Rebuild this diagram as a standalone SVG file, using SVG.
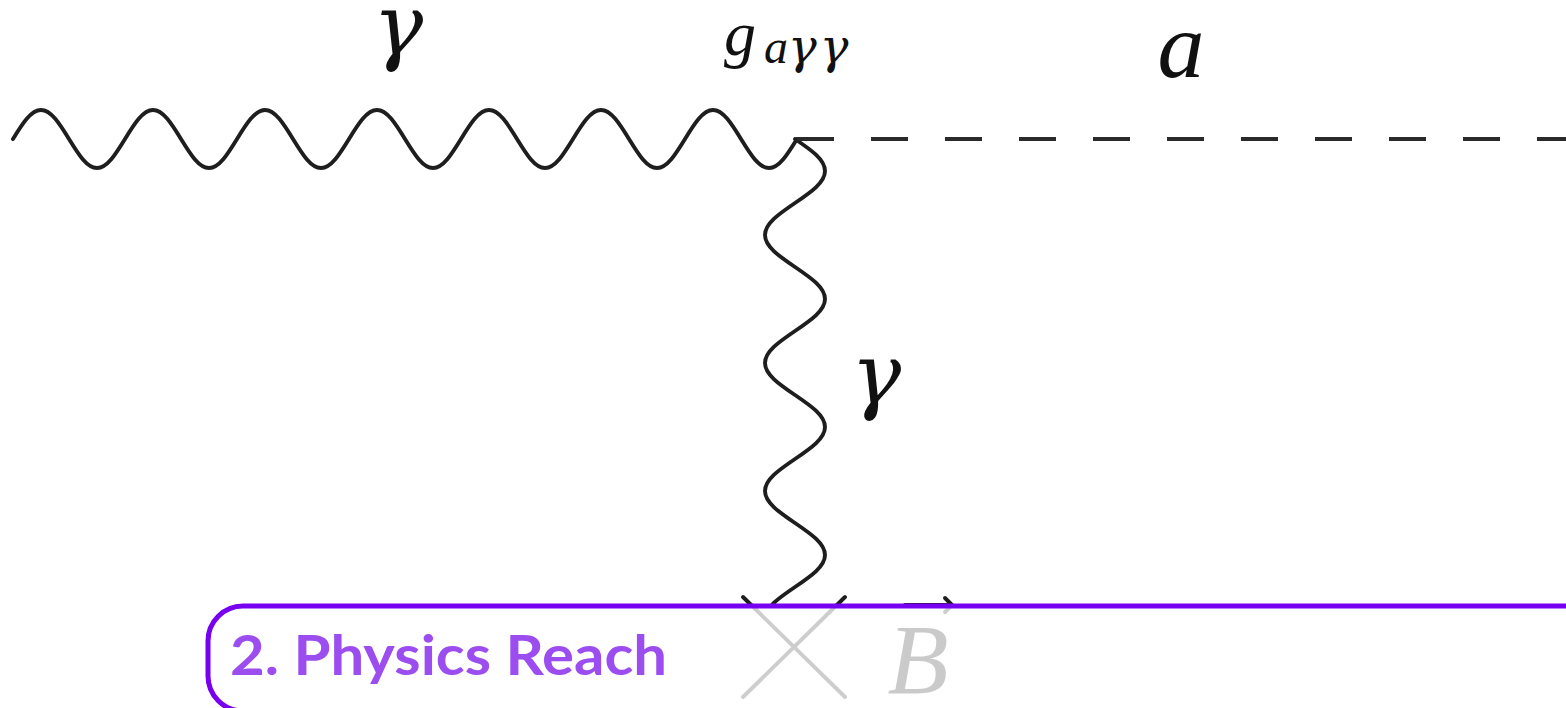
<svg xmlns="http://www.w3.org/2000/svg" width="1566" height="708" viewBox="0 0 1566 708">
<style>
.line{fill:none;stroke:#1e1e1e;stroke-width:3.9;stroke-linecap:round;stroke-linejoin:round}
.dash{fill:none;stroke:#2a2a2a;stroke-width:3.8;stroke-dasharray:37 37}
.math{font-family:"Liberation Serif","DejaVu Serif",serif;font-style:italic;fill:#111}
.greek{font-family:"DejaVu Serif","Liberation Serif",serif;font-style:italic;fill:#111}
.title{font-family:Lato,"Noto Sans",sans-serif;font-weight:700;fill:#9b4df0}
</style>
<defs>
<clipPath id="clipV"><rect x="700" y="130" width="200" height="475"/></clipPath>
</defs>
<rect width="1566" height="708" fill="#fff"/>
<g id="connectors">
<path class="line" d="M13,139 c9.36,-15.23 17.87,-29 28,-29 s18.64,13.77 28,29 s17.87,29 28,29 s18.64,-13.77 28,-29 s17.87,-29 28,-29 s18.64,13.77 28,29 s17.87,29 28,29 s18.64,-13.77 28,-29 s17.87,-29 28,-29 s18.64,13.77 28,29 s17.87,29 28,29 s18.64,-13.77 28,-29 s17.87,-29 28,-29 s18.64,13.77 28,29 s17.87,29 28,29 s18.64,-13.77 28,-29 s17.87,-29 28,-29 s18.64,13.77 28,29 s17.87,29 28,29 s18.64,-13.77 28,-29 s17.87,-29 28,-29 s18.64,13.77 28,29 s17.87,29 28,29 s18.64,-13.77 28,-29 s17.87,-29 28,-29 s18.64,13.77 28,29 s17.87,29 28,29 s18.64,-13.77 28,-29"/>
<path class="line" clip-path="url(#clipV)" d="M795,139 c15.75,10.7 30,20.43 30,32 s-14.25,21.3 -30,32 s-30,20.43 -30,32 s14.25,21.3 30,32 s30,20.43 30,32 s-14.25,21.3 -30,32 s-30,20.43 -30,32 s14.25,21.3 30,32 s30,20.43 30,32 s-14.25,21.3 -30,32 s-30,20.43 -30,32 s14.25,21.3 30,32 s30,20.43 30,32 s-14.25,21.3 -30,32 s-30,20.43 -30,32 s14.25,21.3 30,32"/>
<path class="dash" d="M797,139 H1566"/>
</g>
<g id="node-gamma-in"><text class="greek" x="398" y="54" font-size="84" text-anchor="middle">γ</text></g>
<g id="node-vertex"><text class="math" x="724" y="55" font-size="64">g</text><text class="math" x="764" y="63" font-size="48">a<tspan class="greek" font-size="48" letter-spacing="3">γγ</tspan></text></g>
<g id="node-axion"><text class="math" x="1181" y="77" font-size="94" text-anchor="middle">a</text></g>
<g id="node-gamma-virtual"><text class="greek" x="876" y="403" font-size="84" text-anchor="middle">γ</text></g>
<g id="node-field">
<path class="line" d="M743,597 L845,697 M845,597 L743,697"/>
<text class="math" x="918" y="693" font-size="100" text-anchor="middle">B</text>
<path class="line" stroke-width="2" d="M905,605 H951 M945,598 L952,605 L945,612"/>
</g>
<g id="section-header">
<rect x="208" y="606" width="1420" height="105" rx="35" ry="35" fill="#fff" fill-opacity="0.78" stroke="#7600ef" stroke-width="5"/>
<text class="title" x="230" y="675" font-size="55" textLength="437" lengthAdjust="spacingAndGlyphs">2. Physics Reach</text>
</g>
</svg>
